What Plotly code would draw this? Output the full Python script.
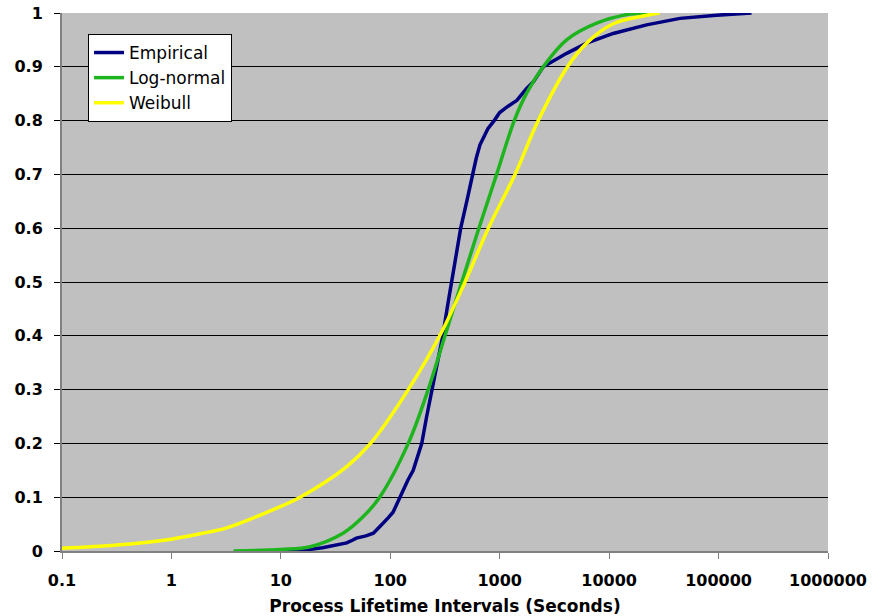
import plotly.graph_objects as go

# ---- data ----
empirical_x = [10, 15, 18.4, 24, 30, 35, 40, 45, 49, 60, 70, 80, 86, 96, 106, 114, 122, 134, 145, 162, 178, 194, 215, 240, 270, 302, 330, 362, 400, 440, 500, 560,
               610, 660, 720, 780, 890, 1000, 1160, 1440, 1763, 2030, 2500, 4090, 6230, 10900, 22000, 44400, 96000, 200000]
empirical_y = [0.0, 0.002, 0.003, 0.006, 0.01, 0.012, 0.015, 0.02, 0.024, 0.028, 0.033, 0.045, 0.051, 0.062, 0.072, 0.086, 0.1, 0.116, 0.132, 0.15, 0.175, 0.2, 0.25, 0.3, 0.35, 0.4, 0.45, 0.5, 0.55, 0.6, 0.65, 0.7,
               0.73, 0.755, 0.772, 0.785, 0.8, 0.815, 0.825, 0.838, 0.86, 0.872, 0.9, 0.925, 0.944, 0.962, 0.978, 0.99, 0.996, 1.0]

lognormal_x = [3.7, 10, 18.5, 37, 56, 80, 146, 222, 316, 450, 645, 937, 1358, 1763, 2500, 4090, 7690, 15500, 29000]
lognormal_y = [0.0, 0.003, 0.008, 0.033, 0.063, 0.1, 0.2, 0.3, 0.4, 0.5, 0.6, 0.7, 0.8, 0.851, 0.9, 0.95, 0.981, 0.998, 1.0]

weibull_x = [0.1, 0.316, 1, 1.82, 3.2, 10, 15, 40, 66, 146, 283, 482, 787, 1380, 2250, 4160, 6230, 10900, 20000, 29000]
weibull_y = [0.005, 0.011, 0.022, 0.032, 0.043, 0.083, 0.1, 0.157, 0.2, 0.3, 0.4, 0.5, 0.6, 0.7, 0.8, 0.9, 0.944, 0.98, 0.994, 1.0]

x_tick_vals = [0.1, 1, 10, 100, 1000, 10000, 100000, 1000000]
x_tick_text = ["0.1", "1", "10", "100", "1000", "10000", "100000", "1000000"]
y_tick_vals = [0, 0.1, 0.2, 0.3, 0.4, 0.5, 0.6, 0.7, 0.8, 0.9, 1]
y_tick_text = ["0", "0.1", "0.2", "0.3", "0.4", "0.5", "0.6", "0.7", "0.8", "0.9", "1"]

FONT = "DejaVu Sans"

fig = go.Figure()
fig.add_trace(go.Scatter(x=empirical_x, y=empirical_y, mode="lines", name="Empirical",
                         line=dict(color="#000080", width=3.5)))
fig.add_trace(go.Scatter(x=lognormal_x, y=lognormal_y, mode="lines", name="Log-normal",
                         line=dict(color="#1EB41E", width=3.5, shape="spline")))
fig.add_trace(go.Scatter(x=weibull_x, y=weibull_y, mode="lines", name="Weibull",
                         line=dict(color="#FFFF00", width=3.5, shape="spline")))

fig.update_layout(
    width=886, height=616,
    margin=dict(l=62, r=58, t=13, b=65, autoexpand=False),
    paper_bgcolor="white",
    plot_bgcolor="#C0C0C0",
    font=dict(family=FONT, color="black"),
    showlegend=True,
    legend=dict(
        x=0.034, y=0.961, xanchor="left", yanchor="top",
        bgcolor="white", bordercolor="black", borderwidth=1,
        font=dict(family=FONT, size=17, color="black"),
        itemwidth=30, tracegroupgap=0,
    ),
    xaxis=dict(
        type="log", range=[-1, 6], automargin=False,
        tickvals=x_tick_vals, ticktext=x_tick_text,
        ticks="outside", ticklen=6, tickcolor="#808080", tickwidth=1,
        showline=True, linecolor="#808080", linewidth=2,
        showgrid=False, zeroline=False,
        tickfont=dict(family=FONT, size=16, color="black", weight="bold"),
        ticklabelstandoff=8, ticklabeloverflow="allow",
        title=dict(text="Process Lifetime Intervals (Seconds)",
                   font=dict(family=FONT, size=17, color="black", weight="bold"),
                   standoff=11),
    ),
    yaxis=dict(
        range=[0, 1], automargin=False,
        tickvals=y_tick_vals, ticktext=y_tick_text,
        ticks="outside", ticklen=6, tickcolor="black", tickwidth=1,
        showline=True, linecolor="#808080", linewidth=2,
        showgrid=True, gridcolor="black", gridwidth=1,
        zeroline=False,
        tickfont=dict(family=FONT, size=16, color="black", weight="bold"),
        ticklabelstandoff=8, ticklabeloverflow="allow",
    ),
)

fig.write_html("out.html", config={"displayModeBar": False},
               post_script="document.body.style.margin='0';")
